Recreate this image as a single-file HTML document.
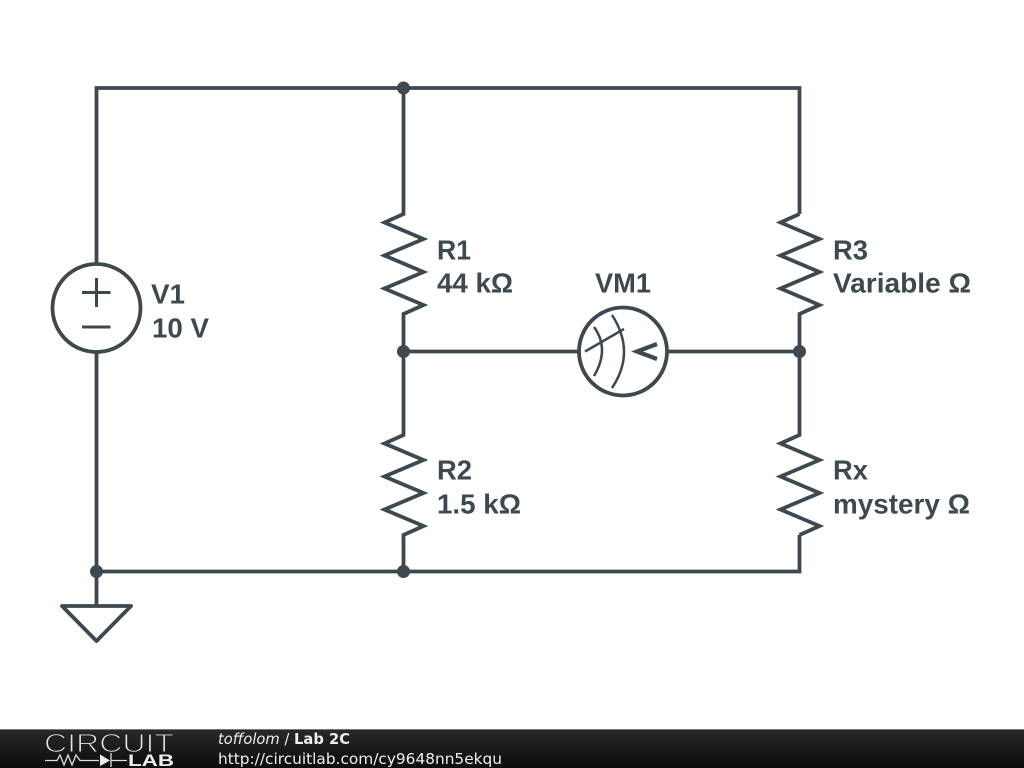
<!DOCTYPE html>
<html><head><meta charset="utf-8"><style>
html,body{margin:0;padding:0;background:#fff}
svg{display:block}
</style></head><body>
<svg width="1024" height="768" viewBox="0 0 1024 768" xmlns="http://www.w3.org/2000/svg">
<defs><linearGradient id="g" x1="0" y1="0" x2="0" y2="1"><stop offset="0" stop-color="#2a2a2a"/><stop offset="1" stop-color="#0c0c0c"/></linearGradient></defs>
<rect width="1024" height="768" fill="#fff"/>
<g fill="none" stroke="#3e484f" stroke-width="3.800" stroke-linejoin="miter">
<path d="M96.500 264V88H799.500V214M96.500 352V571.500M96.500 571.500H799.500V535"/>
<path d="M403.500 88V214L384.500 222.500L423.500 239L384.500 255.500L423.500 272L384.500 288.500L423.500 305L403.500 314V435L384.500 443.500L423.500 460L384.500 476.500L423.500 493L384.500 509.500L423.500 526L403.500 535V571.500"/>
<path d="M799.500 214L780.500 222.500L819.500 239L780.500 255.500L819.500 272L780.500 288.500L819.500 305L799.500 314V435L780.500 443.500L819.500 460L780.500 476.500L819.500 493L780.500 509.500L819.500 526L799.500 535"/>
<path d="M403.500 351.500H579M667 351.500H799.500"/>
<circle cx="96.500" cy="308" r="44"/>
<circle cx="623" cy="351.500" r="44"/>
<path d="M96.500 571.500V606"/>
<path d="M62 606H131L96.500 641Z" stroke-linejoin="round"/>
</g>
<path d="M82 292.500H110.500M96.500 278V307M82 327H110.500" fill="none" stroke="#3e484f" stroke-width="3"/>
<g fill="none" stroke="#3e484f" stroke-width="2.500">
<path d="M585 351.500L624 329"/>
<path d="M594 327Q610 349 594 376"/>
<path d="M612 315Q636 352 612 388"/>
</g>
<path d="M657 344L637 351.500L657 359" fill="none" stroke="#3e484f" stroke-width="4.200"/>
<g fill="#3e484f"><circle cx="403.500" cy="88" r="6.500"/><circle cx="403.500" cy="351.500" r="6.500"/><circle cx="799.500" cy="351.500" r="6.500"/><circle cx="403.500" cy="571.500" r="6.500"/><circle cx="96.500" cy="571.500" r="6.500"/></g>
<g font-family="'Liberation Sans',sans-serif" font-weight="700" font-size="28" fill="#3e484f">
<text x="151" y="303.500" textLength="34" lengthAdjust="spacingAndGlyphs">V1</text><text x="152" y="337.500" textLength="57" lengthAdjust="spacingAndGlyphs">10 V</text>
<text x="437" y="259.500" textLength="34" lengthAdjust="spacingAndGlyphs">R1</text><text x="437" y="292.500" textLength="76" lengthAdjust="spacingAndGlyphs">44 kΩ</text>
<text x="437" y="479.500" textLength="35" lengthAdjust="spacingAndGlyphs">R2</text><text x="437" y="513.500" textLength="84" lengthAdjust="spacingAndGlyphs">1.5 kΩ</text>
<text x="595" y="292.500" textLength="56" lengthAdjust="spacingAndGlyphs">VM1</text>
<text x="833" y="259.500" textLength="35" lengthAdjust="spacingAndGlyphs">R3</text><text x="833" y="292.500" textLength="138" lengthAdjust="spacingAndGlyphs">Variable Ω</text>
<text x="833" y="479.500" textLength="35" lengthAdjust="spacingAndGlyphs">Rx</text><text x="833" y="513.500" textLength="137" lengthAdjust="spacingAndGlyphs">mystery Ω</text>
</g>
<rect y="729" width="1024" height="39" fill="url(#g)"/>
<rect y="729" width="1024" height="1" fill="#777"/>
<text x="44" y="752" font-family="'Liberation Sans',sans-serif" font-size="26" fill="#e4e4e4" stroke="#1f1f1f" stroke-width="1.100" textLength="130" lengthAdjust="spacingAndGlyphs">CIRCUIT</text>
<path d="M45 760.500H57L60 755L64 765L68 755L72 765L76 755L80 760.500H99M111 753V767M111 760.500H127" fill="none" stroke="#ddd" stroke-width="1.300"/>
<path d="M100 754.500L110 760.500L100 766Z" fill="#eee"/>
<text x="128" y="766" font-family="'Liberation Sans',sans-serif" font-weight="700" font-size="17" fill="#eee" textLength="46" lengthAdjust="spacingAndGlyphs">LAB</text>
<g font-family="'DejaVu Sans',sans-serif" font-size="15" fill="#eee">
<text x="218" y="744" textLength="132" lengthAdjust="spacingAndGlyphs"><tspan font-style="italic">toffolom</tspan> / <tspan font-weight="700">Lab 2C</tspan></text>
<text x="218" y="764" textLength="284" lengthAdjust="spacingAndGlyphs">http://circuitlab.com/cy9648nn5ekqu</text>
</g>
</svg>
</body></html>
